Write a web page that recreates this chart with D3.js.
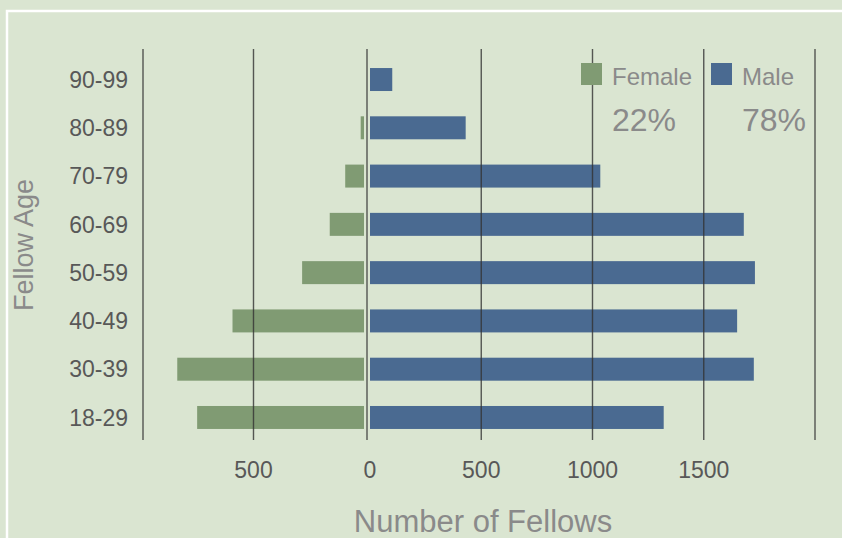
<!DOCTYPE html>
<html>
<head>
<meta charset="utf-8">
<script src="https://cdn.jsdelivr.net/npm/d3@7"></script>
<style>
  html, body { margin: 0; padding: 0; background: #dae5d1; }
  svg { display: block; font-family: "Liberation Sans", Arial, sans-serif; }
</style>
</head>
<body>
<div id="chart"></div>
<script>
// Age groups, top to bottom
const ages = ['90-99', '80-89', '70-79', '60-69', '50-59', '40-49', '30-39', '18-29'];
// Number of fellows per age group
const female = [0, 15, 85, 155, 280, 595, 845, 755];
const male = [100, 430, 1035, 1680, 1730, 1650, 1725, 1320];
// Tick values of the bottom axis
const femaleTicks = [500, 1000];
const maleTicks = [500, 1000, 1500, 2000];
const maleLabels = [500, 1000, 1500];

const width = 842;
const height = 538;

const femaleColor = '#809b73';
const maleColor = '#4a6a91';

const svg = d3.select('#chart').append('svg')
    .attr('width', width)
    .attr('height', height);

// Фон и белая рамка
svg.append('rect')
    .attr('width', width)
    .attr('height', height)
    .attr('fill', '#dae5d1');
svg.append('rect')
    .attr('x', 7)
    .attr('y', 11)
    .attr('width', width + 20)
    .attr('height', height + 20)
    .attr('fill', 'none')
    .attr('stroke', '#ffffff')
    .attr('stroke-width', 2.5);

// Scales: female grows to the left, male to the right
const center = 367;
const xFemale = d3.scaleLinear().domain([0, 1000]).range([364, 143]);
const xMale = d3.scaleLinear().domain([0, 2000]).range([370, 815]);

const yScale = d3.scaleBand()
    .domain(ages)
    .range([55, 442])
    .paddingInner(0.524)
    .paddingOuter(0.27);

// Bars
svg.selectAll('.female-bar')
    .data(ages)
    .enter()
    .append('rect')
    .attr('class', 'female-bar')
    .attr('x', (d, i) => xFemale(female[i]))
    .attr('y', d => yScale(d))
    .attr('width', (d, i) => xFemale(0) - xFemale(female[i]))
    .attr('height', yScale.bandwidth())
    .attr('fill', femaleColor);

svg.selectAll('.male-bar')
    .data(ages)
    .enter()
    .append('rect')
    .attr('class', 'male-bar')
    .attr('x', xMale(0))
    .attr('y', d => yScale(d))
    .attr('width', (d, i) => xMale(male[i]) - xMale(0))
    .attr('height', yScale.bandwidth())
    .attr('fill', maleColor);

// Vertical grid lines (drawn over the bars)
const gridX = femaleTicks.map(d => xFemale(d))
    .concat([center])
    .concat(maleTicks.map(d => xMale(d)));

svg.selectAll('.grid-line')
    .data(gridX)
    .enter()
    .append('line')
    .attr('class', 'grid-line')
    .attr('x1', d => d)
    .attr('x2', d => d)
    .attr('y1', 49)
    .attr('y2', 440)
    .style('stroke', '#333')
    .style('stroke-width', 1.4)
    .attr('opacity', 0.8);

// Y labels
svg.selectAll('.age-label')
    .data(ages)
    .enter()
    .append('text')
    .attr('class', 'age-label')
    .attr('x', 128)
    .attr('y', d => yScale(d) + yScale.bandwidth() / 2)
    .attr('dy', '0.36em')
    .attr('text-anchor', 'end')
    .text(d => d)
    .style('fill', '#585858')
    .style('font-size', '23px');

// X labels
const xLabels = femaleTicks.slice(0, 1).map(d => ({x: xFemale(d), t: d}))
    .concat([{x: xMale(0), t: 0}])
    .concat(maleLabels.map(d => ({x: xMale(d), t: d})));

svg.selectAll('.x-label')
    .data(xLabels)
    .enter()
    .append('text')
    .attr('class', 'x-label')
    .attr('x', d => d.x)
    .attr('y', 478)
    .attr('text-anchor', 'middle')
    .text(d => d.t)
    .style('fill', '#585858')
    .style('font-size', '23px');

// Axis titles
svg.append('text')
    .attr('x', 483)
    .attr('y', 532)
    .attr('text-anchor', 'middle')
    .text('Number of Fellows')
    .style('fill', '#8a8a8a')
    .style('font-size', '31px');

svg.append('text')
    .attr('transform', 'translate(33,245) rotate(-90)')
    .attr('text-anchor', 'middle')
    .text('Fellow Age')
    .style('fill', '#8a8a8a')
    .style('font-size', '27px');

// Legend with shares
const femaleTotal = d3.sum(female);
const maleTotal = d3.sum(male);
const legend = [
    {name: 'Female', color: femaleColor, share: femaleTotal / (femaleTotal + maleTotal), x: 581},
    {name: 'Male', color: maleColor, share: maleTotal / (femaleTotal + maleTotal), x: 711}
];

const lg = svg.selectAll('.legend')
    .data(legend)
    .enter()
    .append('g')
    .attr('class', 'legend')
    .attr('transform', d => `translate(${d.x},0)`);

lg.append('rect')
    .attr('x', 0)
    .attr('y', 63)
    .attr('width', 21)
    .attr('height', 22)
    .attr('fill', d => d.color);

lg.append('text')
    .attr('x', 31)
    .attr('y', 85)
    .text(d => d.name)
    .style('fill', '#8a8a8a')
    .style('font-size', '24px');

lg.append('text')
    .attr('x', 31)
    .attr('y', 131)
    .text(d => Math.round(d.share * 100) + '%')
    .style('fill', '#8a8a8a')
    .style('font-size', '32px');
</script>
</body>
</html>
